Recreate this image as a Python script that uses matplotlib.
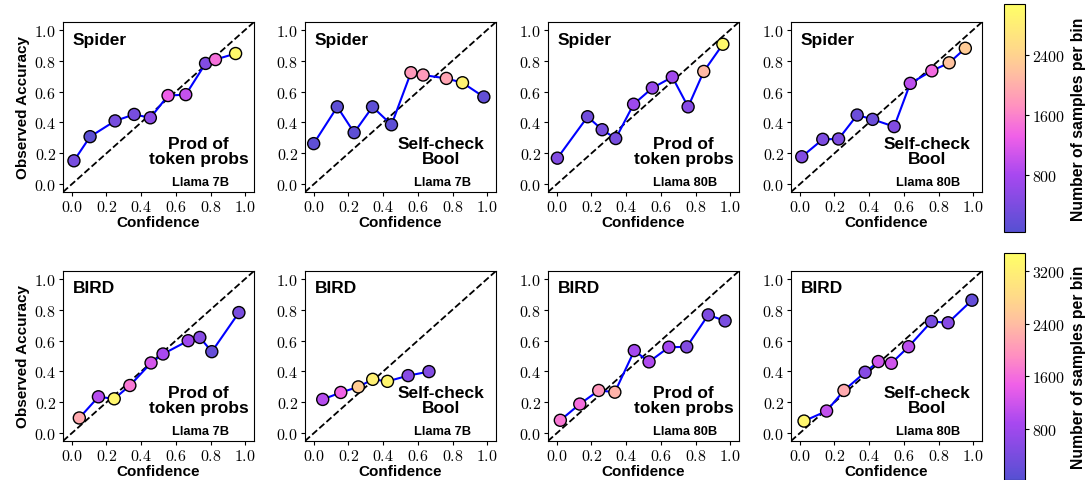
import matplotlib
matplotlib.use("Agg")
import matplotlib.pyplot as plt
import numpy as np
from matplotlib.colors import LinearSegmentedColormap, Normalize
from matplotlib.ticker import FuncFormatter

plt.rcParams['mathtext.fontset'] = 'cm'
plt.rcParams['font.family'] = ['Liberation Sans', 'DejaVu Sans']

# ---- data ----
datasets = ['Spider', 'Spider', 'Spider', 'Spider', 'BIRD', 'BIRD', 'BIRD', 'BIRD']
methods = ['Prod of\ntoken probs', 'Self-check\nBool', 'Prod of\ntoken probs', 'Self-check\nBool'] * 2
models = ['Llama 7B', 'Llama 7B', 'Llama 80B', 'Llama 80B'] * 2

conf_sp_prod_7b = [0.013, 0.106, 0.25, 0.36, 0.453, 0.555, 0.657, 0.771, 0.828, 0.944]
acc_sp_prod_7b = [0.152, 0.308, 0.41, 0.452, 0.43, 0.574, 0.58, 0.782, 0.807, 0.846]
n_sp_prod_7b = [350, 100, 350, 350, 550, 1300, 1000, 450, 1450, 3000]

conf_sp_self_7b = [0.0, 0.136, 0.233, 0.339, 0.448, 0.56, 0.63, 0.764, 0.857, 0.98]
acc_sp_self_7b = [0.263, 0.501, 0.334, 0.501, 0.385, 0.722, 0.707, 0.685, 0.657, 0.565]
n_sp_self_7b = [120, 120, 120, 120, 120, 1800, 1800, 1900, 2900, 150]

conf_sp_prod_80b = [0.004, 0.178, 0.262, 0.34, 0.443, 0.551, 0.666, 0.757, 0.847, 0.957]
acc_sp_prod_80b = [0.169, 0.437, 0.353, 0.296, 0.518, 0.623, 0.694, 0.501, 0.73, 0.906]
n_sp_prod_80b = [450, 300, 350, 350, 700, 650, 750, 500, 2100, 3000]

conf_sp_self_80b = [0.012, 0.133, 0.224, 0.331, 0.42, 0.544, 0.637, 0.761, 0.861, 0.954]
acc_sp_self_80b = [0.178, 0.291, 0.293, 0.448, 0.42, 0.373, 0.653, 0.734, 0.786, 0.88]
n_sp_self_80b = [450, 400, 400, 250, 250, 450, 950, 1400, 2200, 2300]

conf_bd_prod_7b = [0.044, 0.154, 0.245, 0.335, 0.457, 0.526, 0.671, 0.738, 0.807, 0.963]
acc_bd_prod_7b = [0.099, 0.236, 0.223, 0.309, 0.455, 0.513, 0.599, 0.62, 0.528, 0.781]
n_bd_prod_7b = [2200, 1000, 3300, 1700, 1250, 900, 800, 550, 200, 400]

conf_bd_self_7b = [0.052, 0.156, 0.257, 0.34, 0.425, 0.544, 0.664]
acc_bd_self_7b = [0.219, 0.264, 0.3, 0.349, 0.336, 0.373, 0.399]
n_bd_self_7b = [1000, 1500, 2600, 3200, 3300, 550, 500]

conf_bd_prod_80b = [0.021, 0.133, 0.242, 0.335, 0.447, 0.532, 0.646, 0.749, 0.873, 0.97]
acc_bd_prod_80b = [0.084, 0.189, 0.277, 0.266, 0.535, 0.462, 0.557, 0.559, 0.766, 0.727]
n_bd_prod_80b = [1700, 1600, 2000, 2300, 850, 950, 850, 500, 450, 400]

conf_bd_self_80b = [0.025, 0.155, 0.255, 0.377, 0.453, 0.528, 0.627, 0.759, 0.855, 0.992]
acc_bd_self_80b = [0.079, 0.144, 0.277, 0.395, 0.464, 0.453, 0.56, 0.723, 0.715, 0.861]
n_bd_self_80b = [3300, 1100, 2200, 550, 1200, 1200, 1050, 400, 550, 200]

confs = [conf_sp_prod_7b, conf_sp_self_7b, conf_sp_prod_80b, conf_sp_self_80b,
         conf_bd_prod_7b, conf_bd_self_7b, conf_bd_prod_80b, conf_bd_self_80b]
accs = [acc_sp_prod_7b, acc_sp_self_7b, acc_sp_prod_80b, acc_sp_self_80b,
        acc_bd_prod_7b, acc_bd_self_7b, acc_bd_prod_80b, acc_bd_self_80b]
counts = [n_sp_prod_7b, n_sp_self_7b, n_sp_prod_80b, n_sp_self_80b,
          n_bd_prod_7b, n_bd_self_7b, n_bd_prod_80b, n_bd_self_80b]

cbar_ticks_top = [800, 1600, 2400]
cbar_ticks_bot = [800, 1600, 2400, 3200]

cmap = LinearSegmentedColormap.from_list('samples', [
    (0.0, '#5650d2'), (0.25, '#a848f0'), (0.42, '#f060e8'), (0.55, '#ff90c0'),
    (0.7, '#ffc0a0'), (0.8, '#ffd88a'), (1.0, '#ffff66')])
norms = [Normalize(40, 3080), Normalize(30, 3470)]

W, H = 1085, 481
fig = plt.figure(figsize=(W / 100, H / 100), dpi=100)

col_left = [63, 305, 548, 791]
row_top = [23, 272]
aw, ah = 191, 170

bold_fmt = FuncFormatter(lambda v, p: r'$\mathbf{%.1f}$' % v)

for i in range(8):
    r, c = divmod(i, 4)
    ax = fig.add_axes([col_left[c] / W, (H - row_top[r] - ah) / H, aw / W, ah / H])
    ax.plot([-0.05, 1.05], [-0.05, 1.05], 'k--', lw=1.3, zorder=1)
    ax.plot(confs[i], accs[i], color='blue', lw=1.5, zorder=2)
    ax.scatter(confs[i], accs[i], c=counts[i], cmap=cmap, norm=norms[r], s=75,
               edgecolors='black', linewidths=1, zorder=3)
    ax.set_xlim(-0.05, 1.05)
    ax.set_ylim(-0.05, 1.05)
    ax.set_xticks(np.arange(0, 1.01, 0.2))
    ax.set_yticks(np.arange(0, 1.01, 0.2))
    ax.xaxis.set_major_formatter(bold_fmt)
    ax.yaxis.set_major_formatter(bold_fmt)
    ax.tick_params(labelsize=11.5, length=3, pad=2)
    ax.set_xlabel('Confidence', fontsize=11, fontweight='bold', labelpad=1)
    if c == 0:
        ax.set_ylabel('Observed Accuracy', fontsize=11, fontweight='bold', labelpad=3)
    ax.text(0.05, 0.9, datasets[i], transform=ax.transAxes, fontsize=12.5,
            fontweight='bold', va='center', ha='left')
    ax.text(0.71, 0.24, methods[i], transform=ax.transAxes, fontsize=12.5,
            fontweight='bold', va='center', ha='center', linespacing=1.0)
    ax.text(0.72, 0.06, models[i], transform=ax.transAxes, fontsize=9.3,
            fontweight='bold', va='center', ha='center')

for r, ticks in enumerate([cbar_ticks_top, cbar_ticks_bot]):
    if r == 0:
        cax = fig.add_axes([1004 / W, (H - 233) / H, 21 / W, 228 / H])
    else:
        cax = fig.add_axes([1004 / W, 0.0, 21 / W, 227 / H])
    sm = plt.cm.ScalarMappable(norm=norms[r], cmap=cmap)
    cb = fig.colorbar(sm, cax=cax)
    cb.set_ticks(ticks)
    cb.set_ticklabels([r'$\mathbf{%d}$' % t for t in ticks])
    cb.ax.tick_params(labelsize=11.5, length=3, pad=2)
    cb.set_label('Number of samples per bin', fontsize=11.3, fontweight='bold', labelpad=4)

fig.savefig('out.png', dpi=100)
